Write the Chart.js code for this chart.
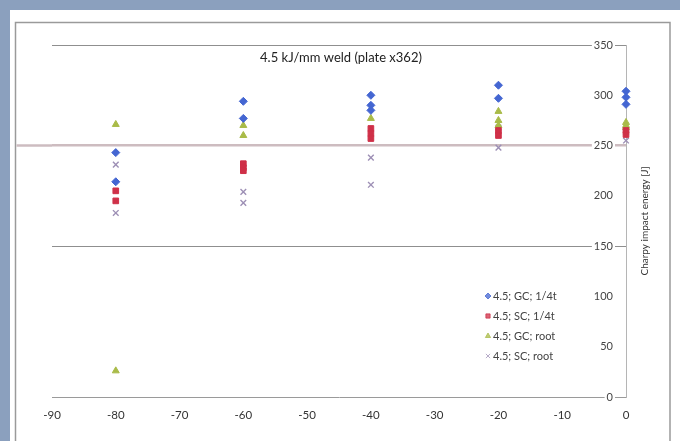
<!DOCTYPE html>
<html>
<head>
<meta charset="utf-8">
<script src="https://cdn.jsdelivr.net/npm/chart.js@4/dist/chart.umd.min.js"></script>
<style>
  html, body { margin: 0; padding: 0; background: #8ba0be; }
  #wrap { width: 680px; height: 441px; }
</style>
</head>
<body>
<div id="wrap"><canvas id="c" width="680" height="441"></canvas></div>
<script>
// Charpy impact energy vs. test temperature, 4.5 kJ/mm weld
const chartTitle = '4.5 kJ/mm weld (plate x362)';
const yAxisTitle = 'Charpy impact energy [J]';
const seriesNames = ['4.5; GC; 1/4t', '4.5; SC; 1/4t', '4.5; GC; root', '4.5; SC; root'];

const xTickValues = [-90, -80, -70, -60, -50, -40, -30, -20, -10, 0];
const yTickValues = [0, 50, 100, 150, 200, 250, 300, 350];

// GC, quarter thickness
const gcQuarterTemp   = [-80, -80, -60, -60, -40, -40, -40, -20, -20, 0, 0, 0];
const gcQuarterEnergy = [243, 214, 294, 277, 300, 290, 285, 310, 297, 304, 298, 291];

// SC, quarter thickness
const scQuarterTemp   = [-80, -80, -60, -60, -60, -40, -40, -40, -20, -20, 0, 0];
const scQuarterEnergy = [205, 195, 232, 228, 225, 267, 262, 257, 265, 260, 265, 261];

// GC, root
const gcRootTemp   = [-80, -80, -60, -60, -40, -20, -20, -20, 0, 0, 0];
const gcRootEnergy = [271, 26, 270, 260, 277, 284, 275, 270, 273, 268, 270];

// SC, root
const scRootTemp   = [-80, -80, -60, -60, -40, -40, -20, -20, 0, 0];
const scRootEnergy = [231, 183, 204, 193, 238, 211, 248, 268, 255, 263];

// 250 J reference level, drawn across the whole panel
const referenceEnergy = 250;

function pairs(xs, ys) { return xs.map((x, i) => ({ x: x, y: ys[i] })); }

const FONT = 'Lato, "Open Sans", sans-serif';

const seriesStyles = [
  { pointStyle: 'rectRot',  color: '#4466d2', radius: 4 },
  { pointStyle: 'rect',     color: '#cf3048', radius: 4 },
  { pointStyle: 'triangle', color: '#a9bb48', radius: 4 },
  { pointStyle: 'crossRot', color: '#9d8fb5', radius: 4 }
];
const seriesData = [
  pairs(gcQuarterTemp, gcQuarterEnergy),
  pairs(scQuarterTemp, scQuarterEnergy),
  pairs(gcRootTemp, gcRootEnergy),
  pairs(scRootTemp, scRootEnergy)
];

const datasets = seriesNames.map((name, i) => ({
  label: name,
  data: seriesData[i],
  pointStyle: seriesStyles[i].pointStyle,
  pointRadius: seriesStyles[i].radius,
  pointBackgroundColor: seriesStyles[i].color,
  pointBorderColor: seriesStyles[i].color,
  pointBorderWidth: seriesStyles[i].pointStyle === 'crossRot' ? 1.4 : 1,
  showLine: false,
  clip: false
}));

const PANEL_LEFT = 15.5;

// Page frame: blue-grey surround, white panel, thin grey border
const framePlugin = {
  id: 'frame',
  beforeDraw(chart) {
    const ctx = chart.ctx;
    ctx.save();
    ctx.fillStyle = '#8ba0be';
    ctx.fillRect(0, 0, chart.width, chart.height);
    ctx.fillStyle = '#ffffff';
    ctx.fillRect(10, 10, chart.width - 10, chart.height - 10);
    ctx.strokeStyle = '#9a9a9a';
    ctx.lineWidth = 1.5;
    ctx.strokeRect(PANEL_LEFT, 22.5, chart.width - 10 - PANEL_LEFT, chart.height);
    ctx.restore();
  },
  beforeDatasetsDraw(chart) {
    // extend the 250 J line out to the panel border
    const ctx = chart.ctx;
    const y = chart.scales.y.getPixelForValue(referenceEnergy);
    ctx.save();
    ctx.strokeStyle = '#cdbcc0';
    ctx.lineWidth = 2.5;
    ctx.beginPath();
    ctx.moveTo(PANEL_LEFT + 1, y);
    ctx.lineTo(chart.chartArea.left, y);
    ctx.stroke();
    ctx.restore();
  }
};

// Title, rotated y-axis title and the in-plot legend
const annotatePlugin = {
  id: 'annotate',
  afterDraw(chart) {
    const ctx = chart.ctx;
    const area = chart.chartArea;
    ctx.save();
    ctx.fillStyle = '#222';
    ctx.font = '13px ' + FONT;
    ctx.textAlign = 'center';
    ctx.textBaseline = 'middle';
    ctx.fillText(chartTitle, 341, area.top + 13);

    // y-axis title reads bottom-to-top, right of the axis
    ctx.save();
    ctx.translate(area.right + 19, (area.top + area.bottom) / 2);
    ctx.rotate(-Math.PI / 2);
    ctx.font = '10px ' + FONT;
    ctx.fillStyle = '#333';
    ctx.fillText(yAxisTitle, 0, 0);
    ctx.restore();

    // legend
    const lx = 488, ly = 296, row = 20;
    ctx.font = '11px ' + FONT;
    ctx.textAlign = 'left';
    chart.data.datasets.forEach((ds, i) => {
      const y = ly + i * row;
      ctx.globalAlpha = 0.75;
      ctx.fillStyle = ds.pointBackgroundColor;
      ctx.strokeStyle = ds.pointBorderColor;
      Chart.helpers.drawPoint(ctx, {
        pointStyle: ds.pointStyle,
        radius: 3,
        borderWidth: 1
      }, lx, y);
      ctx.globalAlpha = 1;
      ctx.fillStyle = '#444';
      ctx.fillText(ds.label, lx + 5, y);
    });
    ctx.restore();
  }
};

new Chart(document.getElementById('c'), {
  type: 'scatter',
  data: { datasets: datasets },
  options: {
    responsive: false,
    devicePixelRatio: 1,
    animation: false,
    layout: { padding: { left: 52, top: 45, right: 0, bottom: 0 } },
    plugins: {
      legend: { display: false },
      tooltip: { enabled: false }
    },
    scales: {
      x: {
        type: 'linear',
        min: xTickValues[0],
        max: xTickValues[xTickValues.length - 1],
        afterBuildTicks(scale) { scale.ticks = xTickValues.map(v => ({ value: v })); },
        afterFit(scale) { scale.height = 44; },
        grid: { display: false, drawTicks: false },
        border: { display: true, color: '#9a9a9a', width: 1 },
        ticks: {
          color: '#333',
          font: { family: FONT, size: 11.5 },
          padding: 11,
          maxRotation: 0
        }
      },
      y: {
        type: 'linear',
        position: 'right',
        min: yTickValues[0],
        max: yTickValues[yTickValues.length - 1],
        afterBuildTicks(scale) { scale.ticks = yTickValues.map(v => ({ value: v })); },
        afterFit(scale) { scale.width = 54; },
        grid: {
          drawTicks: false,
          color(ctx) {
            const v = ctx.tick && ctx.tick.value;
            if (v === referenceEnergy) return '#cdbcc0';
            if (v === 350 || v === 150) return '#8f8f8f';
            return 'rgba(0,0,0,0)';
          },
          lineWidth(ctx) {
            return ctx.tick && ctx.tick.value === referenceEnergy ? 2.5 : 1;
          }
        },
        border: { display: true, color: '#b5b5b5', width: 1 },
        ticks: {
          mirror: true,
          padding: -13,
          color: '#444',
          font: { family: FONT, size: 11 },
          showLabelBackdrop: true,
          backdropColor: '#ffffff',
          backdropPadding: { x: 2, y: 0 }
        }
      }
    }
  },
  plugins: [framePlugin, annotatePlugin]
});
</script>
</body>
</html>
